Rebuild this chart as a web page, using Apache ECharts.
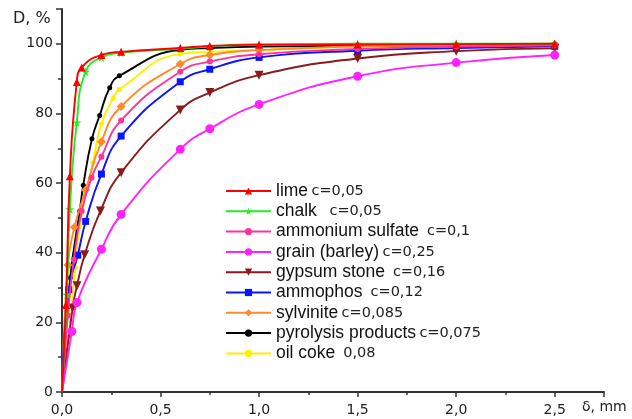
<!DOCTYPE html>
<html><head><meta charset="utf-8">
<script src="https://cdn.jsdelivr.net/npm/echarts@6/dist/echarts.min.js"></script>
<style>html,body{margin:0;padding:0;background:#fff}#c{width:632px;height:419px}</style>
</head><body><div id="c"></div>
<script>
var names = ['lime','chalk','ammonium sulfate','grain (barley)','gypsum stone','ammophos','sylvinite','pyrolysis products','oil coke'];
var cLabels = ['c=0,05','  c=0,05',' c=0,1','c=0,25',' c=0,16',' c=0,12','c=0,085','c=0,075',' 0,08'];
var colors = ['#ff0000','#22ee22','#ff3399','#ff22ff','#8b1a1a','#0a14ff','#ff8a2a','#000000','#ffee00'];

var limeData = [[0,0],[0.02,25],[0.04,62],[0.075,89],[0.1,93.2],[0.2,96.8],[0.3,97.7],[0.6,98.8],[0.75,99.4],[1.0,99.7],[1.5,99.8],[2.0,99.9],[2.5,100]];
var chalkData = [[0,0],[0.025,28],[0.04,52.5],[0.075,77.4],[0.12,92],[0.2,96.1],[0.3,97.4],[0.6,98.6],[0.75,99.2],[1.0,99.9],[1.5,100],[2.0,100],[2.5,100]];
var ammSulfData = [[0,0],[0.03,22],[0.06,38],[0.1,52],[0.15,61.5],[0.2,67.6],[0.3,78],[0.6,92],[0.75,94.9],[1.0,97],[1.5,98.5],[2.0,99.2],[2.5,99.6]];
var grainData = [[0,0],[0.05,17.4],[0.076,25.7],[0.2,41],[0.3,51],[0.6,69.7],[0.75,75.6],[1.0,82.6],[1.5,90.7],[2.0,94.6],[2.5,96.8]];
var gypsumData = [[0,0],[0.054,24.1],[0.076,30.5],[0.115,39.4],[0.195,52],[0.3,63],[0.6,81],[0.75,86],[1.0,91],[1.5,95.8],[2.0,97.9],[2.5,98.7]];
var ammophosData = [[0,0],[0.034,29.4],[0.08,39.3],[0.12,49],[0.2,62.6],[0.3,73.5],[0.6,89.1],[0.75,92.7],[1.0,96.1],[1.5,98],[2.0,98.8],[2.5,99.3]];
var sylviniteData = [[0,0],[0.03,36.5],[0.063,47.3],[0.12,58],[0.2,71.9],[0.3,82],[0.6,94.2],[0.75,96.8],[1.0,98.2],[1.5,99.3],[2.0,99.6],[2.5,99.8]];
var pyrolysisData = [[0,0],[0.042,32.8],[0.09,52],[0.108,59.4],[0.152,72.7],[0.191,79.4],[0.242,87.4],[0.291,90.8],[0.6,98.3],[0.75,98.8],[1.0,99.2],[1.5,99.4],[2.0,99.6],[2.5,99.8]];
var oilCokeData = [[0,0],[0.034,16],[0.068,35.7],[0.09,47.5],[0.157,65.9],[0.2,77],[0.26,84.4],[0.29,86.9],[0.6,97.1],[0.75,97.7],[1.0,98.2],[1.5,99.2],[2.0,99.6],[2.5,100]];

var allData = [limeData,chalkData,ammSulfData,grainData,gypsumData,ammophosData,sylviniteData,pyrolysisData,oilCokeData];
var star = 'path://M50,0 L61,35 L98,35 L68,57 L79,91 L50,70 L21,91 L32,57 L2,35 L39,35 Z';
var symbols = ['triangle',star,'circle','circle','triangle','rect','diamond','circle','circle'];
var symSizes = [8,9,6,9,9,7,9,5,5];
var rotates = [0,0,0,0,180,0,0,0,0];
var wideFont = 'DejaVu Sans, Verdana, sans-serif';
var mainFont = 'Liberation Sans, Arial, sans-serif';

var chart = echarts.init(document.getElementById('c'));
var series = names.map(function(n,i){
  return {
    name: n, type: 'line', data: allData[i].map(function(p){ return p[0]===0 ? {value:p, symbol:'none'} : p; }),
    smooth: 0.5,
    symbol: symbols[i], symbolSize: symSizes[i], symbolRotate: rotates[i],
    showAllSymbol: true,
    lineStyle: {color: colors[i], width: 1.9},
    itemStyle: {color: colors[i]},
    z: 10 - i
  };
});

chart.setOption({
  animation: false,
  textStyle: {fontFamily: mainFont},
  grid: {left: 62, right: 28, top: 9, bottom: 27},
  legend: {
    orient: 'vertical', left: 220, top: 177,
    itemWidth: 45, itemHeight: 9, itemGap: 2.3,
    data: names,
    formatter: function(n){ var i = names.indexOf(n); return '{a|' + n + '} {b|' + cLabels[i] + '}'; },
    textStyle: {
      rich: {
        a: {fontSize: 17.5, color: '#111', fontFamily: mainFont},
        b: {fontSize: 14.5, color: '#222', fontFamily: wideFont}
      }
    }
  },
  xAxis: {
    type: 'value', min: 0, max: 2.75, interval: 0.5,
    axisLine: {show: true, onZero: false, lineStyle: {color: '#333', width: 2}},
    axisTick: {show: true, length: 5, lineStyle: {color: '#333', width: 1.5}},
    minorTick: {show: true, splitNumber: 2, length: 3, lineStyle: {color: '#333', width: 1.5}},
    splitLine: {show: false},
    axisLabel: {margin: 11, fontSize: 14, color: '#222', fontFamily: wideFont, showMaxLabel: false,
      formatter: function(v){ return v.toFixed(1).replace('.', ','); }}
  },
  yAxis: {
    type: 'value', min: 0, max: 110, interval: 20,
    axisLine: {show: true, onZero: false, lineStyle: {color: '#333', width: 2}},
    axisTick: {show: true, length: 6, lineStyle: {color: '#333', width: 1.5}},
    minorTick: {show: true, splitNumber: 2, length: 4, lineStyle: {color: '#333', width: 1.5}},
    splitLine: {show: false},
    axisLabel: {margin: 9, fontSize: 14, color: '#222', fontFamily: wideFont, showMaxLabel: false}
  },
  graphic: [
    {type: 'text', left: 13, top: 11, style: {text: 'D, %', fontSize: 16, fill: '#222', fontFamily: wideFont}},
    {type: 'text', left: 582, top: 400, style: {text: 'δ, mm', fontSize: 14, fill: '#222', fontFamily: wideFont}}
  ],
  series: series
});
</script></body></html>
